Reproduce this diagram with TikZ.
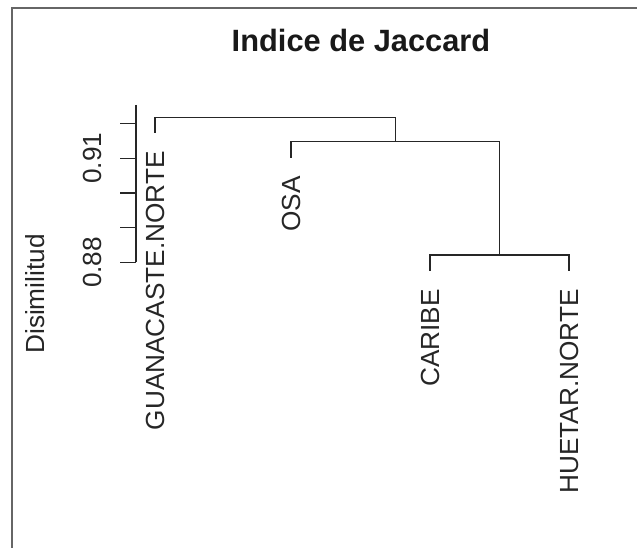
\documentclass[tikz,border=0pt]{standalone}
\usepackage{fontspec}
\setmainfont{Liberation Sans}
\begin{document}
\begin{tikzpicture}[x=1pt,y=-1pt,
  branch/.style={line width=1.3pt, draw=black!85, line cap=rect},
  axisline/.style={line width=1.2pt, draw=black!85},
  frameline/.style={line width=1.2pt, draw=black!60},
  basefont/.style={font=\fontsize{26.2}{31}\selectfont},
  leaflabel/.style={basefont, rotate=90, anchor=east, inner sep=0pt, text=black!85},
  vlabel/.style={basefont, rotate=90, anchor=center, inner sep=0pt, text=black!85}]
% page
\fill[white] (0,0) rectangle (637,548);
\useasboundingbox (0,0) rectangle (637,548);
\draw[frameline] (12,548) -- (12,8) -- (637,8);

% title
\node[font=\bfseries\fontsize{30.8}{36}\selectfont, anchor=base, inner sep=0pt, text=black!90]
  (title) at (361,52) {Indice de Jaccard};

% vertical axis
\coordinate (axtop) at (136,105);
\coordinate (axbot) at (136,262.4);
\draw[axisline] (axtop) -- (axbot);
\foreach \k in {0,...,4}{
  \coordinate (tick\k) at (136,{262.4-34.7*\k});
  \draw[axisline] (tick\k) -- ++(-16,0);
}
\node[vlabel] (t088) at (92.5,262.4) {0.88};
\node[vlabel] (t091) at (92.5,158.3) {0.91};
\node[vlabel] (ylab) at (35,294) {Disimilitud};

% leaves
\coordinate (gbot) at (155,132.5);
\coordinate (obot) at (291,157);
\coordinate (cbot) at (430,270);
\coordinate (hbot) at (569,270);
\node[leaflabel] (lg) at (155,151) {GUANACASTE.NORTE};
\node[leaflabel] (lo) at (291,176) {OSA};
\node[leaflabel] (lc) at (430,289) {CARIBE};
\node[leaflabel] (lh) at (569,289) {HUETAR.NORTE};

% merges
\coordinate (m1) at (499.5,255);
\coordinate (m1up) at (499.5,141.7);
\coordinate (m2) at (395.25,141.7);
\coordinate (m2up) at (395.25,117.5);

\draw[branch] (cbot) |- (m1) -| (hbot);
\draw[branch] (m1) -- (m1up);
\draw[branch] (obot) |- (m1up);
\draw[branch] (m2) -- (m2up);
\draw[branch] (gbot) |- (m2up);
\end{tikzpicture}
\end{document}
